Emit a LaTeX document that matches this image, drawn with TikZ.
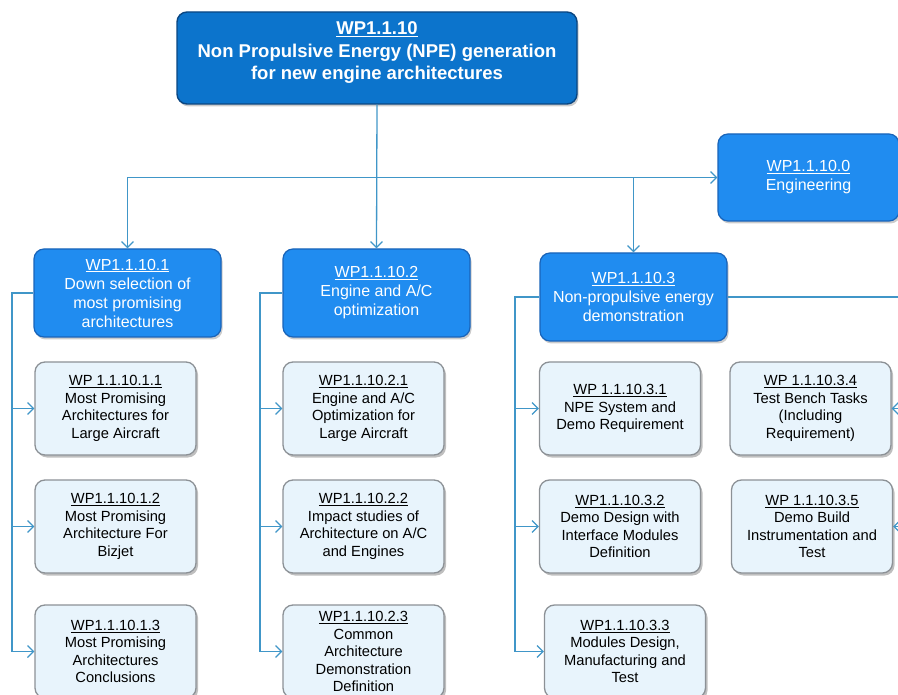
\documentclass[tikz,border=0pt]{standalone}
\usepackage{fontspec}
\setmainfont{Liberation Sans}
\usetikzlibrary{arrows.meta,shadows}
\definecolor{topfill}{RGB}{12,116,204}
\definecolor{topdraw}{RGB}{10,70,130}
\definecolor{mainfill}{RGB}{32,140,240}
\definecolor{maindraw}{RGB}{25,100,185}
\definecolor{subfill}{RGB}{232,244,252}
\definecolor{subdraw}{RGB}{140,145,150}
\definecolor{wire}{RGB}{64,150,200}
\tikzset{
  topbox/.style={draw=topdraw, line width=1.4pt, fill=topfill, rounded corners=10pt,
    minimum width=400pt, minimum height=92pt, text=white, align=center,
    font=\fontsize{18.5}{22.5}\selectfont\bfseries, text depth=14pt,
    drop shadow={shadow xshift=1.5pt, shadow yshift=-2.5pt, opacity=0.4}},
  mainbox/.style={draw=maindraw, line width=1.2pt, fill=mainfill, rounded corners=10pt,
    minimum width=187pt, minimum height=88pt, text=white, align=center,
    font=\fontsize{16}{19}\selectfont,
    drop shadow={shadow xshift=1.5pt, shadow yshift=-2.5pt, opacity=0.4}},
  subbox/.style={draw=subdraw, line width=1.3pt, fill=subfill, rounded corners=10pt,
    minimum width=161pt, minimum height=93pt, text=black, align=center,
    font=\fontsize{14.7}{17.5}\selectfont,
    drop shadow={shadow xshift=2pt, shadow yshift=-2.5pt, opacity=0.5}},
  wireline/.style={draw=wire, line width=1.3pt},
  arr/.style={wireline, -{Straight Barb[length=6pt,width=12pt,line width=1.2pt]}},
}
\begin{document}
\begin{tikzpicture}[x=1pt,y=-1pt]
\useasboundingbox (0,0) rectangle (898,695);
\clip (0,0) rectangle (898,695);
% nodes
\node[topbox] (top) at (377,58) {\underline{WP1.1.10}\\Non Propulsive Energy (NPE) generation\\for new engine architectures};
\node[mainbox, minimum width=181pt, minimum height=87pt] (eng) at (808.5,177.5) {\underline{WP1.1.10.0}\\Engineering};
\node[mainbox] (b1) at (127.5,293) {\underline{WP1.1.10.1}\\Down selection of\\most promising\\architectures};
\node[mainbox] (b2) at (376.5,293) {\underline{WP1.1.10.2}\\Engine and A/C\\optimization};
\node[mainbox] (b3) at (633.5,297) {\underline{WP1.1.10.3}\\Non-propulsive energy\\demonstration};
\node[subbox] (c11) at (115.5,408.5) {\underline{WP 1.1.10.1.1}\\Most Promising\\Architectures for\\Large Aircraft};
\node[subbox] (c12) at (115.5,526.5) {\underline{WP1.1.10.1.2}\\Most Promising\\Architecture For\\Bizjet};
\node[subbox] (c13) at (115.5,651.5) {\underline{WP1.1.10.1.3}\\Most Promising\\Architectures\\Conclusions};
\node[subbox] (c21) at (363.5,408.5) {\underline{WP1.1.10.2.1}\\Engine and A/C\\Optimization for\\Large Aircraft};
\node[subbox] (c22) at (363.5,526.5) {\underline{WP1.1.10.2.2}\\Impact studies of\\Architecture on A/C\\and Engines};
\node[subbox] (c23) at (363.5,651.5) {\underline{WP1.1.10.2.3}\\Common\\Architecture\\Demonstration\\Definition};
\node[subbox] (c31) at (620,408.5) {\underline{WP 1.1.10.3.1}\\NPE System and\\Demo Requirement};
\node[subbox] (c32) at (620,526.5) {\underline{WP1.1.10.3.2}\\Demo Design with\\Interface Modules\\Definition};
\node[subbox] (c33) at (625,651.5) {\underline{WP1.1.10.3.3}\\Modules Design,\\Manufacturing and\\Test};
\node[subbox] (c34) at (810.5,408.5) {\underline{WP 1.1.10.3.4}\\Test Bench Tasks\\(Including\\Requirement)};
\node[subbox] (c35) at (812,526.5) {\underline{WP 1.1.10.3.5}\\Demo Build\\Instrumentation and\\Test};
% top-level connectors
\coordinate (hl) at (b1.north |- eng.west);
\draw[arr] (hl) -- (eng.west);
\draw[arr] (hl) -- (b1.north);
\draw[arr] (top.south) -- (b2.north);
\draw[arr] (b3.north |- eng.west) -- (b3.north);
% column 1
\coordinate (t1) at (12,293);
\draw[wireline] (b1.west) -- (t1) -- (t1 |- c13.west);
\draw[arr] (t1 |- c11.west) -- (c11.west);
\draw[arr] (t1 |- c12.west) -- (c12.west);
\draw[arr] (t1 |- c13.west) -- (c13.west);
% column 2
\coordinate (t2) at (260,293);
\draw[wireline] (b2.west) -- (t2) -- (t2 |- c23.west);
\draw[arr] (t2 |- c21.west) -- (c21.west);
\draw[arr] (t2 |- c22.west) -- (c22.west);
\draw[arr] (t2 |- c23.west) -- (c23.west);
% column 3
\coordinate (t3) at (515,297);
\draw[wireline] (b3.west) -- (t3) -- (t3 |- c33.west);
\draw[arr] (t3 |- c31.west) -- (c31.west);
\draw[arr] (t3 |- c32.west) -- (c32.west);
\draw[arr] (t3 |- c33.west) -- (c33.west);
% right trunk (runs off the picture)
\coordinate (t4) at (912,297);
\draw[wireline] (b3.east) -- (t4) -- (t4 |- c35.east);
\draw[arr] (t4 |- c34.east) -- (c34.east);
\draw[arr] (t4 |- c35.east) -- (c35.east);
\end{tikzpicture}
\end{document}
